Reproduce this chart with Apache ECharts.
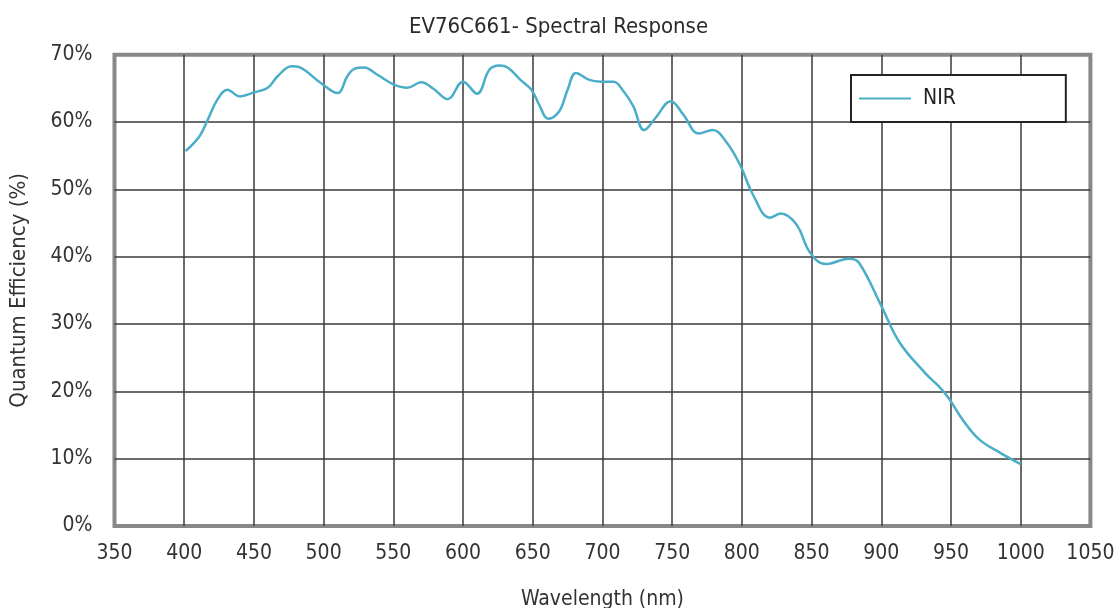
<!DOCTYPE html>
<html>
<head>
<meta charset="utf-8">
<script src="https://cdn.jsdelivr.net/npm/echarts@6/dist/echarts.min.js"></script>
<style>
  html, body { margin: 0; padding: 0; background: #fff; }
  #chart { width: 1117px; height: 608px; }
</style>
</head>
<body>
<div id="chart"></div>
<script>
// spectral response
const wavelength = [401, 411, 417, 424, 431, 440, 450, 460, 467, 477, 483, 498, 510, 517, 522, 529, 538,
  550, 560, 570, 579, 589, 600, 610, 619, 626, 632, 641, 649, 655, 661, 669, 675, 681, 690, 699, 708,
  715, 722, 730, 738, 749, 758, 769, 779, 789, 799, 808, 820, 828, 839, 849, 860, 877, 884, 900, 913,
  932, 941, 948, 958, 970, 985, 1000];
const qeNIR = [55.7, 57.9, 60.4, 63.4, 64.8, 63.8, 64.4, 65.1, 66.8, 68.3, 68.1, 65.8, 64.3, 66.8, 67.9, 68.1, 67.1,
  65.6, 65.1, 65.9, 64.9, 63.4, 66.0, 64.2, 67.8, 68.4, 68.1, 66.3, 64.8, 62.4, 60.5, 61.6, 64.8, 67.3, 66.3, 66.0, 66.0,
  64.6, 62.4, 58.8, 60.6, 63.1, 61.1, 58.3, 58.8, 57.0, 53.5, 49.2, 45.8, 46.4, 44.8, 40.6, 38.9, 39.7, 39.1, 32.7, 27.3,
  22.6, 20.8, 19.1, 15.9, 12.9, 10.9, 9.2];

const font = '"Liberation Sans Narrow", "DejaVu Sans Condensed", "Noto Sans", sans-serif';
const chart = echarts.init(document.getElementById('chart'));

chart.setOption({
  animation: false,
  backgroundColor: '#fff',
  title: {
    text: 'EV76C661- Spectral Response',
    left: 'center',
    top: 11,
    textStyle: { fontFamily: font, fontSize: 22, fontWeight: 'normal', color: '#2a2a2a' },
  },
  legend: {
    data: ['NIR'],
    left: 851,
    top: 75,
    orient: 'vertical',
    backgroundColor: '#fff',
    borderColor: '#222',
    borderWidth: 2,
    borderRadius: 0,
    padding: [13, 110, 13, 8],
    itemWidth: 52,
    itemHeight: 18,
    icon: 'path://M0,9 L52,9 L52,11 L0,11 Z',
    textStyle: { fontFamily: font, fontSize: 21, color: '#222', padding: [0, 0, 0, 7] },
  },
  grid: {
    left: 114.5,
    right: 26.6,
    top: 54.7,
    bottom: 82,
    outerBoundsMode: 'none',
    containLabel: false,
    show: true,
    borderColor: '#888',
    borderWidth: 4,
  },
  xAxis: {
    type: 'value',
    min: 350,
    max: 1050,
    interval: 50,
    name: 'Wavelength (nm)',
    nameLocation: 'middle',
    nameGap: 63,
    nameTextStyle: { fontFamily: font, fontSize: 21, color: '#333' },
    axisLine: { show: false },
    axisTick: { show: false },
    axisLabel: { margin: 17, fontFamily: font, fontSize: 21, color: '#333', formatter: (v) => String(v) },
    splitLine: { showMinLine: false, showMaxLine: false, lineStyle: { color: '#3a3a3a', width: 1.5 } },
  },
  yAxis: {
    type: 'value',
    min: 0,
    max: 70,
    interval: 10,
    name: 'Quantum Efficiency (%)',
    nameLocation: 'middle',
    nameGap: 84,
    nameTextStyle: { fontFamily: font, fontSize: 22, color: '#333' },
    axisLine: { show: false },
    axisTick: { show: false },
    axisLabel: { margin: 22, fontFamily: font, fontSize: 21, color: '#333', formatter: '{value}%' },
    splitLine: { showMinLine: false, showMaxLine: false, lineStyle: { color: '#3a3a3a', width: 1.5 } },
  },
  series: [
    {
      name: 'NIR',
      type: 'line',
      data: wavelength.map((w, i) => [w, qeNIR[i]]),
      smooth: 0.4,
      showSymbol: false,
      lineStyle: { color: '#4aaec9', width: 2.5 },
      itemStyle: { color: '#4aaec9' },
    },
  ],
});
</script>
</body>
</html>
